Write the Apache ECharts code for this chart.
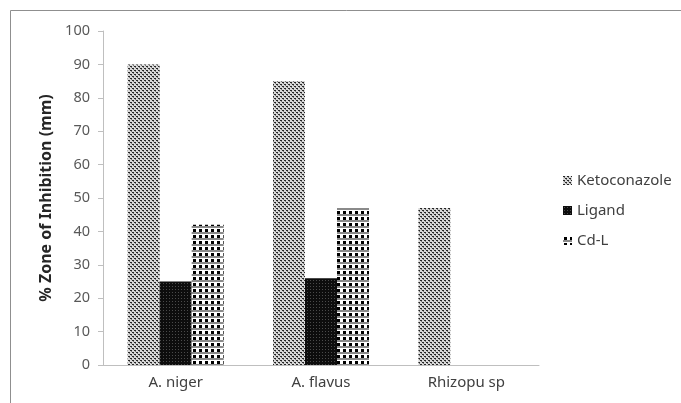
<!DOCTYPE html>
<html><head><meta charset="utf-8">
<script src="https://cdn.jsdelivr.net/npm/echarts@6/dist/echarts.min.js"></script>
<style>html,body{margin:0;padding:0;background:#fff}#c{width:681px;height:403px}</style>
</head><body><div id="c"></div>
<script>
const categories = ['A. niger', 'A. flavus', 'Rhizopu sp'];
const seriesNames = ['Ketoconazole', 'Ligand', 'Cd-L'];
const ketoconazole = [90, 85, 47];
const ligand = [25, 26, null];
const cdL = [42, 47, null];
const yTicks = [0, 10, 20, 30, 40, 50, 60, 70, 80, 90, 100];

function tile(w, h, draw) {
  const c = document.createElement('canvas');
  c.width = w; c.height = h;
  const g = c.getContext('2d');
  draw(g);
  return { image: c, repeat: 'repeat' };
}
const ketoPat = tile(4, 4, g => {
  g.fillStyle = '#d9d9d9'; g.fillRect(0, 0, 4, 4);
  g.fillStyle = '#262626';
  g.fillRect(0, 0, 2, 1); g.fillRect(2, 2, 2, 1);
  g.fillStyle = '#7a7a7a';
  g.fillRect(1, 1, 1, 1); g.fillRect(3, 3, 1, 1);
});
const ligandPat = tile(3, 3, g => {
  g.fillStyle = '#0d0d0d'; g.fillRect(0, 0, 3, 3);
  g.fillStyle = '#4a4a4a'; g.fillRect(1, 1, 1, 1);
});
const cdlPat = tile(6, 6, g => {
  g.fillStyle = '#ffffff'; g.fillRect(0, 0, 6, 6);
  g.fillStyle = '#8a8a8a'; g.fillRect(0, 4, 6, 2);
  g.fillStyle = '#000000'; g.fillRect(1, 1, 3, 3);
});

const chart = echarts.init(document.getElementById('c'));
const font = 'Noto Sans';
chart.setOption({
  animation: false,
  backgroundColor: '#fff',
  graphic: [{ type: 'rect', shape: { x: 10.5, y: 10.5, width: 700, height: 420 }, style: { fill: 'none', stroke: '#8f8f8f', lineWidth: 1 }, silent: true }],
  grid: { left: 103, right: 142, top: 31, bottom: 38 },
  legend: {
    orient: 'vertical', left: 558, top: 168, itemGap: 15,
    itemWidth: 9, itemHeight: 9,
    textStyle: { fontFamily: font, fontSize: 15, color: '#404040' },
    data: seriesNames.map(n => ({ name: n, icon: 'rect' }))
  },
  xAxis: {
    type: 'category', data: categories,
    axisLine: { lineStyle: { color: '#bfbfbf' } },
    axisTick: { length: 6, lineStyle: { color: '#bfbfbf' } },
    axisLabel: { fontFamily: font, fontSize: 15, color: '#404040', margin: 10 }
  },
  yAxis: {
    type: 'value', min: 0, max: 100, interval: 10,
    name: '% Zone of Inhibition (mm)', nameLocation: 'middle', nameGap: 49,
    nameTextStyle: { fontFamily: font, fontSize: 16, fontWeight: 'bold', color: '#262626' },
    axisLine: { show: true, lineStyle: { color: '#bfbfbf' } },
    axisTick: { show: true, length: 5, lineStyle: { color: '#bfbfbf' } },
    splitLine: { show: false },
    axisLabel: { fontFamily: font, fontSize: 14.5, color: '#595959', margin: 13,
      formatter: v => yTicks.includes(v) ? String(v) : '' }
  },
  series: [
    { name: seriesNames[0], type: 'bar', data: ketoconazole, barWidth: 32, barGap: '0%', itemStyle: { color: ketoPat } },
    { name: seriesNames[1], type: 'bar', data: ligand, barWidth: 32, barGap: '0%', itemStyle: { color: ligandPat } },
    { name: seriesNames[2], type: 'bar', data: cdL, barWidth: 32, barGap: '0%', itemStyle: { color: cdlPat } }
  ]
});
</script></body></html>
